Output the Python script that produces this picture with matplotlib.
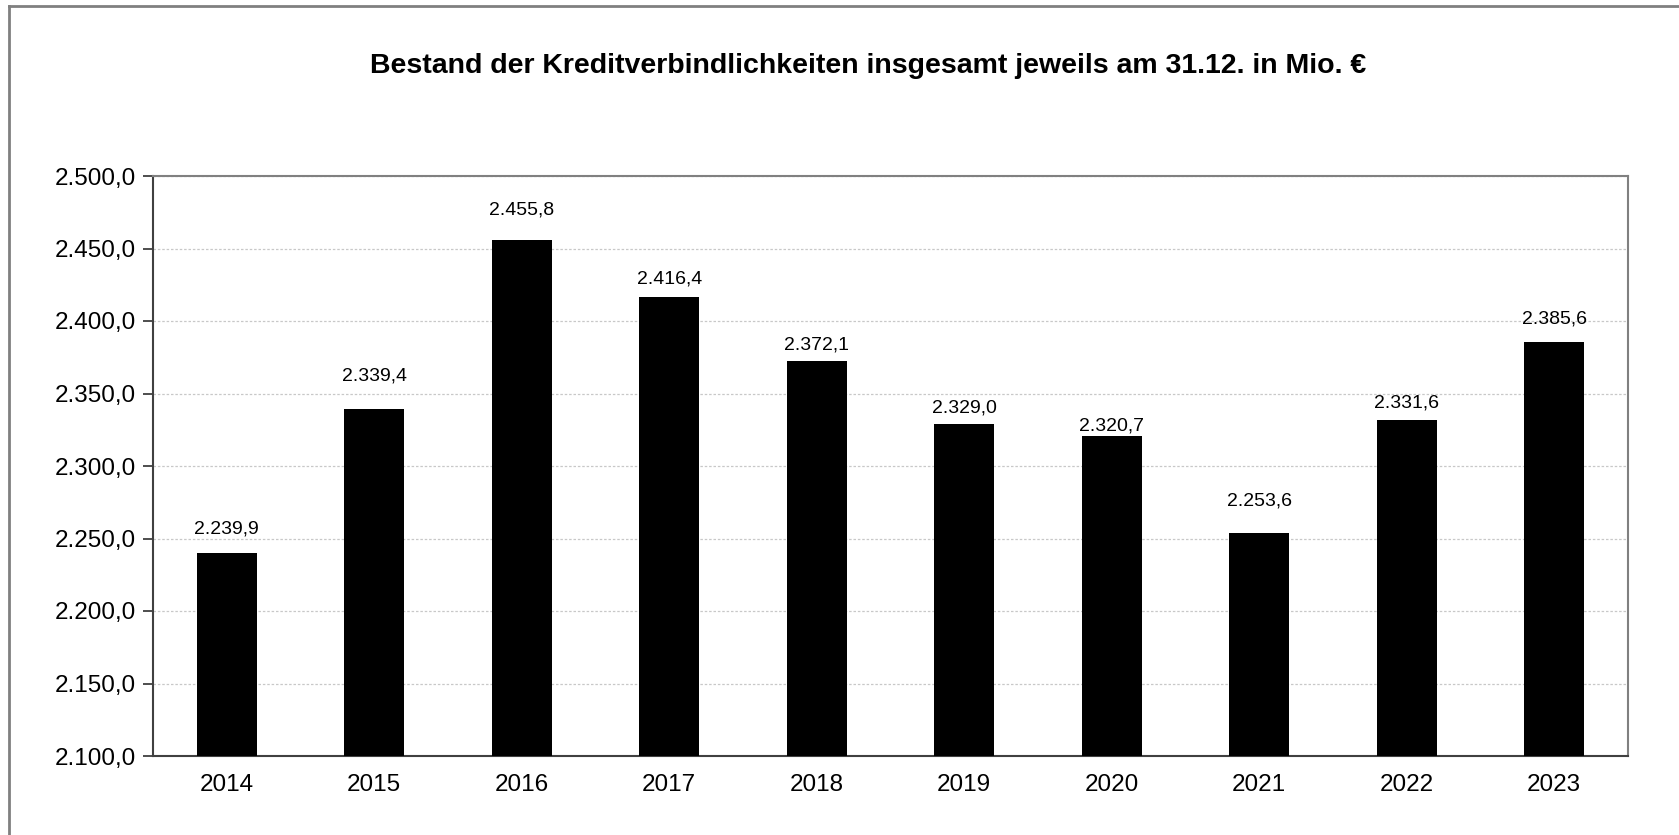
import matplotlib
matplotlib.use("Agg")
import matplotlib.pyplot as plt
from matplotlib.lines import Line2D
import numpy as np

plt.rcParams['font.family'] = ['Liberation Sans', 'DejaVu Sans']

years = ['2014', '2015', '2016', '2017', '2018', '2019', '2020', '2021', '2022', '2023']
values = [2239.9, 2339.4, 2455.8, 2416.4, 2372.1, 2329.0, 2320.7, 2253.6, 2331.6, 2385.6]

# gap (px) between bar top and label baseline, as placed in the original
label_gap = [20, 28, 26, 14, 12, 11, 5, 28, 13, 18]


def de_fmt(v):
    # German number format: 2.239,9
    s = f"{v:,.1f}"
    return s.replace(",", "X").replace(".", ",").replace("X", ".")


W, H = 1679, 835
fig = plt.figure(figsize=(W / 100, H / 100), dpi=100)
ax = fig.add_axes([153 / W, 1 - 756 / H, (1628 - 153) / W, (756 - 176) / H])

ind = np.arange(len(years))
ax.bar(ind, values, width=0.41, color='black', zorder=3)
ax.set_ylim(2100, 2500)
ax.set_xlim(-0.5, len(years) - 0.5)

yt = np.arange(2100, 2501, 50)
ax.set_yticks(yt)
ax.set_yticklabels([de_fmt(v) for v in yt], fontsize=17.5)
ax.set_xticks(ind)
ax.set_xticklabels(years, fontsize=17.5)
ax.tick_params(axis='x', length=0, pad=13)
ax.tick_params(axis='y', length=7, width=1.3, color='#404040', pad=5)

ax.grid(axis='y', color='#c8c8c8', linestyle=(0, (2, 1.5)), linewidth=0.9, zorder=0)

for side in ['left', 'bottom']:
    ax.spines[side].set_color('#404040')
    ax.spines[side].set_linewidth(1.5)
for side in ['top', 'right']:
    ax.spines[side].set_color('#808080')
    ax.spines[side].set_linewidth(1.5)

for i in range(len(values)):
    ax.annotate(de_fmt(values[i]), (ind[i], values[i]), xytext=(0, label_gap[i]),
                textcoords='offset pixels', ha='center', va='baseline', fontsize=14)

fig.text(868 / W, 1 - 66 / H, 'Bestand der Kreditverbindlichkeiten insgesamt jeweils am 31.12. in Mio. €',
         ha='center', va='center', fontsize=20.5, fontweight='bold')

# outer frame (only top and left edge visible)
fig.add_artist(Line2D([9 / W, 9 / W], [0, 1 - 6 / H], color='#808080', linewidth=2))
fig.add_artist(Line2D([9 / W, 1], [1 - 6 / H, 1 - 6 / H], color='#808080', linewidth=2))

fig.savefig('out.png', dpi=100)
